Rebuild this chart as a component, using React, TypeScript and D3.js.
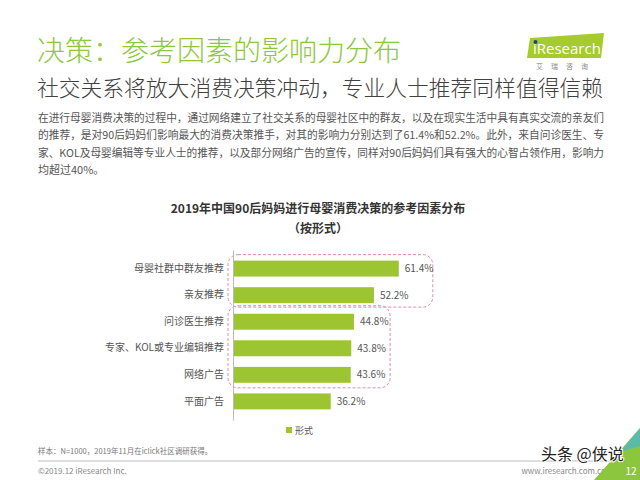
import { useEffect, useRef } from 'react';
import * as d3 from 'd3';

const categories = ['母婴社群中群友推荐', '亲友推荐', '问诊医生推荐', '专家、KOL或专业编辑推荐', '网络广告', '平面广告'];
const values = [61.4, 52.2, 44.8, 43.8, 43.6, 36.2];
const seriesName = '形式';

const title = '决策：参考因素的影响力分布';
const subtitle = '社交关系将放大消费决策冲动，专业人士推荐同样值得信赖';
const paragraph = [
  '在进行母婴消费决策的过程中，通过网络建立了社交关系的母婴社区中的群友，以及在现实生活中具有真实交流的亲友们',
  '的推荐，是对90后妈妈们影响最大的消费决策推手，对其的影响力分别达到了61.4%和52.2%。此外，来自问诊医生、专',
  '家、KOL及母婴编辑等专业人士的推荐，以及部分网络广告的宣传，同样对90后妈妈们具有强大的心智占领作用，影响力',
  '均超过40%。',
];
const chartTitle = '2019年中国90后妈妈进行母婴消费决策的参考因素分布';
const chartSubtitle = '（按形式）';
const note = '样本：N=1000，2019年11月在iclick社区调研获得。';

const FONT = '"Noto Sans CJK SC", "Noto Sans", sans-serif';
const GREEN = '#8dc63f';
const BAR = '#9dc431';

export default function App() {
  const svgRef = useRef<SVGSVGElement>(null);

  useEffect(() => {
    if (!svgRef.current) return;
    const svg = d3.select(svgRef.current);
    svg.selectAll('*').remove();
    svg.style('font-family', FONT);

    svg.append('rect').attr('width', 640).attr('height', 480).attr('fill', '#fff');

    // header
    svg.append('text').attr('x', 37).attr('y', 61).attr('fill', GREEN)
      .style('font-size', '28px').style('font-weight', 300).text(title);
    svg.append('text').attr('x', 37).attr('y', 96).attr('fill', '#404040')
      .style('font-size', '22px').style('font-weight', 300)
      .attr('textLength', 566).attr('lengthAdjust', 'spacingAndGlyphs').text(subtitle);

    // logo
    const logo = svg.append('g');
    logo.append('path').attr('d', 'M530,38 L604,33 L601,58 L527,58 Z').attr('fill', '#a6cb2d');
    logo.append('text').attr('x', 533).attr('y', 54).attr('fill', '#fff')
      .style('font-size', '15px').style('font-family', '"Open Sans", sans-serif').text('iResearch');
    logo.append('circle').attr('cx', 535.5).attr('cy', 42).attr('r', 2).attr('fill', '#1c3f94');
    logo.append('text').attr('x', 566).attr('y', 69).attr('text-anchor', 'middle').attr('fill', '#888')
      .style('font-size', '7px').style('letter-spacing', '8px').text('艾瑞咨询');

    // paragraph
    paragraph.forEach((line, i) => {
      const t = svg.append('text').attr('x', 38).attr('y', 122 + i * 17.3).attr('fill', '#555')
        .style('font-size', '11px').text(line);
      if (i < paragraph.length - 1) t.attr('textLength', 566).attr('lengthAdjust', 'spacingAndGlyphs');
    });

    // chart titles
    svg.append('text').attr('x', 318).attr('y', 213).attr('text-anchor', 'middle').attr('fill', '#333')
      .style('font-size', '12px').style('font-weight', 'bold').text(chartTitle);
    svg.append('text').attr('x', 318).attr('y', 233).attr('text-anchor', 'middle').attr('fill', '#333')
      .style('font-size', '12px').style('font-weight', 'bold').text(chartSubtitle);

    const x = d3.scaleLinear().domain([0, 100]).range([233, 503]);
    const y = d3.scaleBand<string>().domain(categories).range([250, 420]).padding(0.4);
    const bw = y.bandwidth();

    // dashed highlight boxes
    const box = (from: number, to: number, right: number, padTop: number, padBot: number) => {
      const top = (y(categories[from]) ?? 0) - padTop;
      const bottom = (y(categories[to]) ?? 0) + bw + padBot;
      svg.append('rect').attr('x', x(0) - 5).attr('y', top)
        .attr('width', x(right) - x(0) + 5).attr('height', bottom - top)
        .attr('rx', 10).attr('fill', 'none').attr('stroke', '#e48aa4')
        .attr('stroke-width', 1).attr('stroke-dasharray', '3,2');
    };
    box(0, 1, 74, 6, 4);
    box(2, 4, 58.2, 8, 5);

    svg.append('g').selectAll('rect').data(values).join('rect')
      .attr('x', x(0)).attr('y', (_, i) => y(categories[i]) ?? 0)
      .attr('width', (d) => x(d) - x(0)).attr('height', bw).attr('fill', BAR);

    svg.append('g').selectAll('text').data(values).join('text')
      .attr('x', (d) => x(d) + 6).attr('y', (_, i) => (y(categories[i]) ?? 0) + bw / 2)
      .attr('dy', '0.35em').attr('fill', '#555').style('font-size', '10px')
      .text((d) => `${d.toFixed(1)}%`);

    const axis = svg.append('g').attr('transform', `translate(${x(0)},0)`)
      .call(d3.axisLeft(y).tickSize(0).tickPadding(9));
    axis.select('.domain').attr('stroke', '#bbb');
    axis.selectAll('text').attr('fill', '#555').style('font-size', '10px').style('font-family', FONT);

    // legend
    svg.append('rect').attr('x', 286).attr('y', 427).attr('width', 6).attr('height', 6).attr('fill', BAR);
    svg.append('text').attr('x', 295).attr('y', 433.5).attr('fill', '#555')
      .style('font-size', '9px').text(seriesName);

    // footer
    svg.append('text').attr('x', 38).attr('y', 454).attr('fill', '#777')
      .style('font-size', '7.5px').text(note);
    svg.append('line').attr('x1', 38).attr('x2', 612).attr('y1', 461).attr('y2', 461)
      .attr('stroke', '#aaa').attr('stroke-width', 0.8);
    svg.append('text').attr('x', 38).attr('y', 474).attr('fill', '#888')
      .style('font-size', '8px').text('©2019.12 iResearch Inc.');
    svg.append('text').attr('x', 606).attr('y', 474).attr('text-anchor', 'end').attr('fill', '#888')
      .style('font-size', '8px').text('www.iresearch.com.cn');

    // corner
    svg.append('path').attr('d', 'M594,480 L640,428 L640,480 Z').attr('fill', '#8cc63f');
    svg.append('path').attr('d', 'M620,452 L640,428 L640,446 Z').attr('fill', '#46b6d9').attr('opacity', 0.7);
    svg.append('text').attr('x', 631).attr('y', 475).attr('text-anchor', 'middle').attr('fill', '#fff')
      .style('font-size', '10px').text('12');

    // watermark
    svg.append('text').attr('x', 541).attr('y', 460).attr('fill', '#222')
      .attr('stroke', '#fff').attr('stroke-width', 2).attr('paint-order', 'stroke')
      .style('font-size', '16px').text('头条 @侠说');
  }, []);

  return <svg ref={svgRef} width={640} height={480} style={{ position: 'absolute', left: 0, top: 0 }} />;
}
